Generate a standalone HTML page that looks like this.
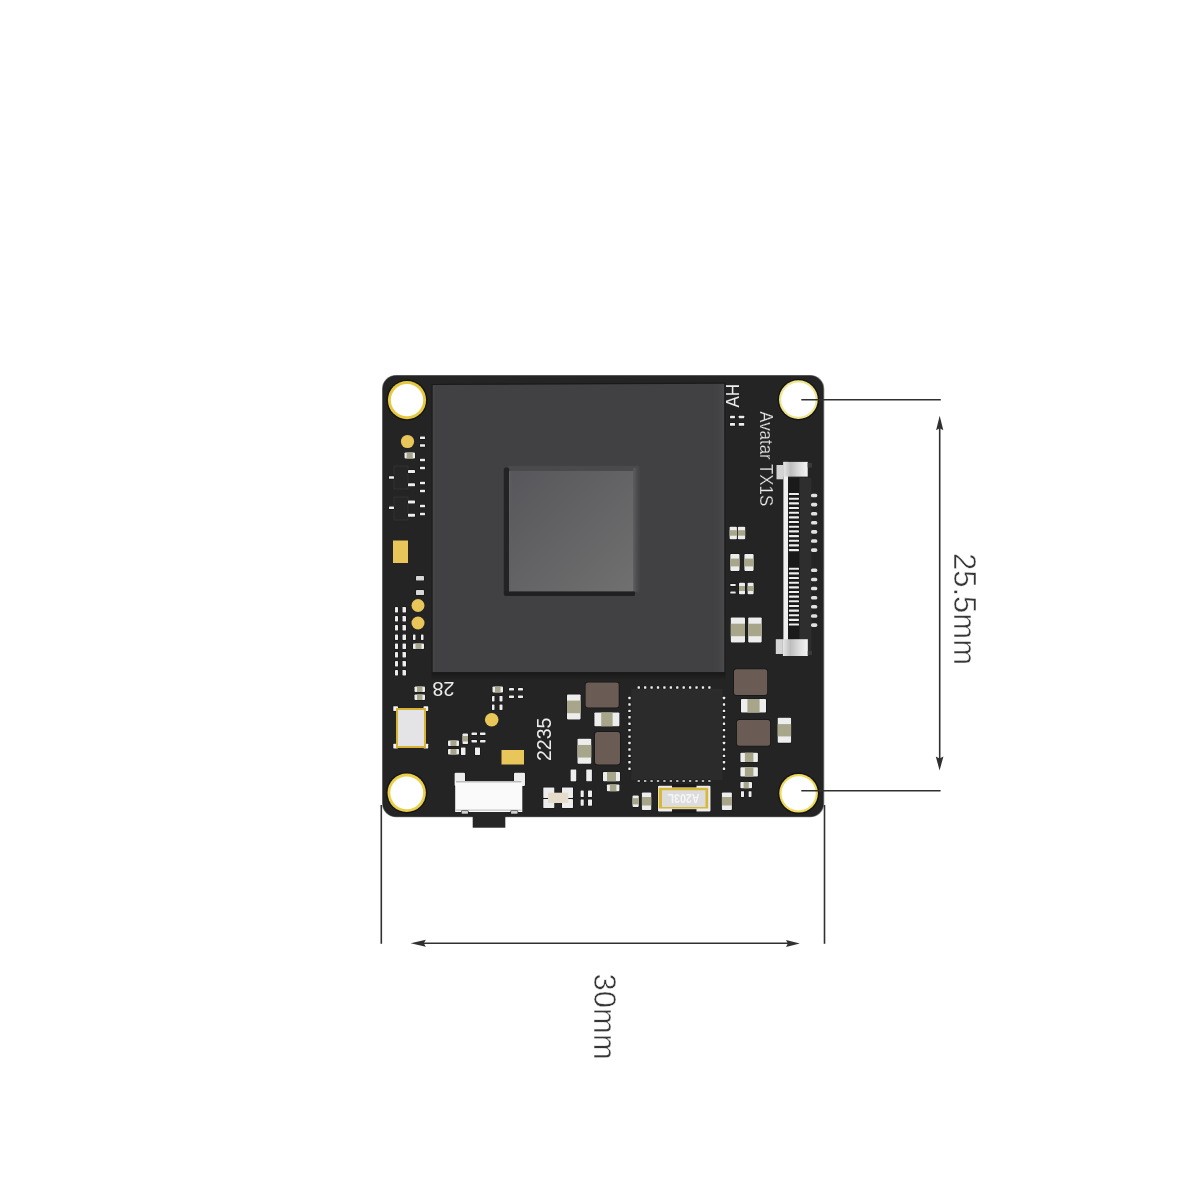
<!DOCTYPE html>
<html><head><meta charset="utf-8">
<style>
html,body{margin:0;padding:0;background:#fff;width:1200px;height:1200px;overflow:hidden}
svg{display:block;will-change:transform}
text{font-family:"Liberation Sans",sans-serif}
</style></head><body>
<svg width="1200" height="1200" viewBox="0 0 1200 1200">
<defs>
<linearGradient id="chipg" x1="0" y1="0" x2="1" y2="1">
<stop offset="0" stop-color="#57575b"/><stop offset="1" stop-color="#707070"/>
</linearGradient>
<linearGradient id="bevr" x1="0" y1="0" x2="1" y2="0">
<stop offset="0" stop-color="#5c5c5e"/><stop offset="1" stop-color="#444446"/>
</linearGradient>
<linearGradient id="shb" x1="0" y1="0" x2="0" y2="1">
<stop offset="0" stop-color="#1a1a1a"/><stop offset="1" stop-color="#242424"/>
</linearGradient>
<linearGradient id="sqr" x1="0" y1="0" x2="1" y2="0">
<stop offset="0" stop-color="#414143" stop-opacity="0"/><stop offset="1" stop-color="#4a4a4c"/>
</linearGradient>
<linearGradient id="sqg" x1="0" y1="0" x2="1" y2="0">
<stop offset="0" stop-color="#3f3f41"/><stop offset="0.9" stop-color="#424244"/><stop offset="1" stop-color="#48484a"/>
</linearGradient>
<linearGradient id="ringg" x1="0" y1="0" x2="1" y2="1">
<stop offset="0" stop-color="#dcc040"/><stop offset="0.6" stop-color="#efd657"/><stop offset="1" stop-color="#f5e68a"/>
</linearGradient>
<linearGradient id="capg" x1="0" y1="0" x2="1" y2="0">
<stop offset="0" stop-color="#e6e6e6"/><stop offset="0.3" stop-color="#bdbdbd"/><stop offset="0.6" stop-color="#d8d8d8"/><stop offset="1" stop-color="#f4f4f4"/>
</linearGradient>
</defs>
<rect width="1200" height="1200" fill="#fff"/>

<rect x="382" y="375" width="442.3" height="442.3" rx="14" fill="#8a8a8a"/>
<rect x="382.6" y="375.6" width="440.9" height="441.1" rx="13.5" fill="#242424"/>
<polygon points="431.5,384 725.5,382.5 725.5,674.5 431.5,674.5" fill="#1a1a1a"/>
<polygon points="432.8,385 724,383.7 724.2,672 432.8,672" fill="#414143"/>
<rect x="712" y="384" width="12.2" height="288" fill="url(#sqr)"/>
<rect x="432.80" y="385.00" width="2.00" height="287.00" fill="#464648"/>
<rect x="431.5" y="674" width="294" height="6" fill="url(#shb)"/>
<rect x="508" y="465.8" width="131.5" height="126" rx="2" fill="#4a4a4c"/>
<rect x="633.3" y="468" width="5.8" height="123.5" fill="url(#bevr)"/>
<rect x="503.8" y="467.5" width="5.5" height="128.5" rx="2" fill="#232325"/>
<rect x="504.5" y="591.3" width="130.5" height="4.8" rx="1.5" fill="#202022"/>
<rect x="509.00" y="471.00" width="124.30" height="120.30" fill="url(#chipg)"/>
<rect x="509.00" y="471.00" width="1.50" height="120.30" fill="#606062"/>
<circle cx="407.0" cy="400.1" r="20.50" fill="#141414"/><circle cx="407.0" cy="400.1" r="19.1" fill="#e6c840"/><circle cx="407.0" cy="400.1" r="16.2" fill="#fff"/>
<circle cx="798.4" cy="399.6" r="20.80" fill="#141414"/><circle cx="798.4" cy="399.6" r="19.4" fill="#efe58a"/><circle cx="798.4" cy="399.6" r="17.2" fill="#fff"/>
<circle cx="406.7" cy="792.8" r="20.60" fill="#141414"/><circle cx="406.7" cy="792.8" r="19.2" fill="#ead04a"/><circle cx="406.7" cy="792.8" r="16.4" fill="#fff"/>
<circle cx="798.6" cy="793.3" r="20.70" fill="#141414"/><circle cx="798.6" cy="793.3" r="19.3" fill="#efda5a"/><circle cx="798.6" cy="793.3" r="17.1" fill="#fff"/>
<circle cx="407.5" cy="441.5" r="6.6" fill="#e9c65a"/>
<rect x="420.00" y="436.50" width="5.00" height="2.60" rx="0.4" fill="#ededed" stroke="#141414" stroke-width="1.2" paint-order="stroke"/>
<rect x="420.00" y="444.20" width="5.00" height="2.60" rx="0.4" fill="#ededed" stroke="#141414" stroke-width="1.2" paint-order="stroke"/>
<rect x="420.00" y="458.70" width="5.00" height="2.60" rx="0.4" fill="#ededed" stroke="#141414" stroke-width="1.2" paint-order="stroke"/>
<rect x="420.00" y="466.70" width="5.00" height="2.60" rx="0.4" fill="#ededed" stroke="#141414" stroke-width="1.2" paint-order="stroke"/>
<rect x="420.00" y="481.70" width="5.00" height="2.60" rx="0.4" fill="#ededed" stroke="#141414" stroke-width="1.2" paint-order="stroke"/>
<rect x="420.00" y="489.70" width="5.00" height="2.60" rx="0.4" fill="#ededed" stroke="#141414" stroke-width="1.2" paint-order="stroke"/>
<rect x="420.00" y="504.70" width="5.00" height="2.60" rx="0.4" fill="#ededed" stroke="#141414" stroke-width="1.2" paint-order="stroke"/>
<rect x="420.00" y="512.70" width="5.00" height="2.60" rx="0.4" fill="#ededed" stroke="#141414" stroke-width="1.2" paint-order="stroke"/>
<rect x="404.50" y="452.50" width="10.50" height="6.00" rx="0.8" fill="#ededed" stroke="#141414" stroke-width="1.2" paint-order="stroke"/>
<rect x="406.70" y="452.50" width="6.10" height="6.00" fill="#a8a68a"/>
<rect x="394.00" y="466.00" width="14.00" height="23.00" fill="#262626" stroke="#383838" stroke-width="0.7"/>
<rect x="389.00" y="476.20" width="5.00" height="2.60" rx="0.4" fill="#ededed" stroke="#141414" stroke-width="1.2" paint-order="stroke"/>
<rect x="408.00" y="470.00" width="7.00" height="3.00" rx="0.4" fill="#ededed" stroke="#141414" stroke-width="1.2" paint-order="stroke"/>
<rect x="408.00" y="483.30" width="7.00" height="3.00" rx="0.4" fill="#ededed" stroke="#141414" stroke-width="1.2" paint-order="stroke"/>
<rect x="394.00" y="497.00" width="14.00" height="23.00" fill="#262626" stroke="#383838" stroke-width="0.7"/>
<rect x="389.00" y="506.50" width="5.00" height="2.60" rx="0.4" fill="#ededed" stroke="#141414" stroke-width="1.2" paint-order="stroke"/>
<rect x="408.00" y="500.50" width="7.00" height="3.00" rx="0.4" fill="#ededed" stroke="#141414" stroke-width="1.2" paint-order="stroke"/>
<rect x="408.00" y="513.70" width="7.00" height="3.00" rx="0.4" fill="#ededed" stroke="#141414" stroke-width="1.2" paint-order="stroke"/>
<rect x="393.00" y="540.50" width="15.00" height="22.50" fill="#e9c65a"/>
<rect x="416.00" y="576.00" width="8.00" height="4.50" rx="0.4" fill="#d8d8d8" stroke="#141414" stroke-width="1.2" paint-order="stroke"/>
<rect x="416.00" y="590.00" width="8.00" height="5.00" rx="0.4" fill="#d8d8d8" stroke="#141414" stroke-width="1.2" paint-order="stroke"/>
<circle cx="418" cy="605.5" r="6.5" fill="#e9c65a"/><circle cx="418" cy="623" r="6.5" fill="#e9c65a"/>
<rect x="395.00" y="607.00" width="3.00" height="5.50" rx="0.4" fill="#ededed" stroke="#141414" stroke-width="1.2" paint-order="stroke"/>
<rect x="402.50" y="607.00" width="3.50" height="5.50" rx="0.4" fill="#ededed" stroke="#141414" stroke-width="1.2" paint-order="stroke"/>
<rect x="395.00" y="616.00" width="3.00" height="5.50" rx="0.4" fill="#ededed" stroke="#141414" stroke-width="1.2" paint-order="stroke"/>
<rect x="402.50" y="616.00" width="3.50" height="5.50" rx="0.4" fill="#ededed" stroke="#141414" stroke-width="1.2" paint-order="stroke"/>
<rect x="395.00" y="625.00" width="3.00" height="5.50" rx="0.4" fill="#ededed" stroke="#141414" stroke-width="1.2" paint-order="stroke"/>
<rect x="402.50" y="625.00" width="3.50" height="5.50" rx="0.4" fill="#ededed" stroke="#141414" stroke-width="1.2" paint-order="stroke"/>
<rect x="395.00" y="634.50" width="3.00" height="5.50" rx="0.4" fill="#ededed" stroke="#141414" stroke-width="1.2" paint-order="stroke"/>
<rect x="402.50" y="634.50" width="3.50" height="5.50" rx="0.4" fill="#ededed" stroke="#141414" stroke-width="1.2" paint-order="stroke"/>
<rect x="395.00" y="643.50" width="3.00" height="5.50" rx="0.4" fill="#ededed" stroke="#141414" stroke-width="1.2" paint-order="stroke"/>
<rect x="402.50" y="643.50" width="3.50" height="5.50" rx="0.4" fill="#ededed" stroke="#141414" stroke-width="1.2" paint-order="stroke"/>
<rect x="395.00" y="652.00" width="3.00" height="5.50" rx="0.4" fill="#ededed" stroke="#141414" stroke-width="1.2" paint-order="stroke"/>
<rect x="402.50" y="652.00" width="3.50" height="5.50" rx="0.4" fill="#ededed" stroke="#141414" stroke-width="1.2" paint-order="stroke"/>
<rect x="395.00" y="661.00" width="3.00" height="5.50" rx="0.4" fill="#ededed" stroke="#141414" stroke-width="1.2" paint-order="stroke"/>
<rect x="402.50" y="661.00" width="3.50" height="5.50" rx="0.4" fill="#ededed" stroke="#141414" stroke-width="1.2" paint-order="stroke"/>
<rect x="395.00" y="670.00" width="3.00" height="5.50" rx="0.4" fill="#ededed" stroke="#141414" stroke-width="1.2" paint-order="stroke"/>
<rect x="402.50" y="670.00" width="3.50" height="5.50" rx="0.4" fill="#ededed" stroke="#141414" stroke-width="1.2" paint-order="stroke"/>
<rect x="413.00" y="634.50" width="2.50" height="5.50" rx="0.4" fill="#ededed" stroke="#141414" stroke-width="1.2" paint-order="stroke"/>
<rect x="421.00" y="634.50" width="2.50" height="5.50" rx="0.4" fill="#ededed" stroke="#141414" stroke-width="1.2" paint-order="stroke"/>
<rect x="413.00" y="643.50" width="11.00" height="5.50" rx="0.8" fill="#ededed" stroke="#141414" stroke-width="1.2" paint-order="stroke"/>
<rect x="415.50" y="643.50" width="6.00" height="5.50" fill="#a8a68a"/>
<text transform="translate(454.5,681.5) rotate(180)" font-size="20" fill="#ececec">28</text>
<rect x="414.50" y="686.50" width="10.50" height="5.50" rx="0.8" fill="#ededed" stroke="#141414" stroke-width="1.2" paint-order="stroke"/>
<rect x="417.00" y="686.50" width="5.50" height="5.50" fill="#a8a68a"/>
<rect x="414.50" y="694.50" width="10.50" height="5.50" rx="0.8" fill="#ededed" stroke="#141414" stroke-width="1.2" paint-order="stroke"/>
<rect x="417.00" y="694.50" width="5.50" height="5.50" fill="#a8a68a"/>
<rect x="393.30" y="706.30" width="4.70" height="4.70" rx="0.4" fill="#f4f4f4" stroke="#141414" stroke-width="1.2" paint-order="stroke"/>
<rect x="423.50" y="706.30" width="4.70" height="4.70" rx="0.4" fill="#f4f4f4" stroke="#141414" stroke-width="1.2" paint-order="stroke"/>
<rect x="393.30" y="743.80" width="4.70" height="4.70" rx="0.4" fill="#f4f4f4" stroke="#141414" stroke-width="1.2" paint-order="stroke"/>
<rect x="423.50" y="743.80" width="4.70" height="4.70" rx="0.4" fill="#f4f4f4" stroke="#141414" stroke-width="1.2" paint-order="stroke"/>
<rect x="396.00" y="708.00" width="30.00" height="40.00" fill="#d8b232"/>
<rect x="398.00" y="710.00" width="26.00" height="36.00" fill="#e4e4e6"/>
<rect x="448.00" y="740.50" width="11.00" height="5.50" rx="0.8" fill="#ededed" stroke="#141414" stroke-width="1.2" paint-order="stroke"/>
<rect x="450.50" y="740.50" width="6.00" height="5.50" fill="#a8a68a"/>
<rect x="448.00" y="749.00" width="11.00" height="5.50" rx="0.8" fill="#ededed" stroke="#141414" stroke-width="1.2" paint-order="stroke"/>
<rect x="450.50" y="749.00" width="6.00" height="5.50" fill="#a8a68a"/>
<rect x="492.50" y="686.50" width="10.50" height="6.00" rx="0.8" fill="#ededed" stroke="#141414" stroke-width="1.2" paint-order="stroke"/>
<rect x="495.00" y="686.50" width="5.50" height="6.00" fill="#a8a68a"/>
<rect x="509.00" y="688.00" width="5.00" height="2.50" rx="0.4" fill="#ededed" stroke="#141414" stroke-width="1.2" paint-order="stroke"/>
<rect x="509.00" y="695.50" width="5.00" height="2.50" rx="0.4" fill="#ededed" stroke="#141414" stroke-width="1.2" paint-order="stroke"/>
<rect x="518.00" y="688.00" width="5.00" height="2.50" rx="0.4" fill="#ededed" stroke="#141414" stroke-width="1.2" paint-order="stroke"/>
<rect x="518.00" y="695.50" width="5.00" height="2.50" rx="0.4" fill="#ededed" stroke="#141414" stroke-width="1.2" paint-order="stroke"/>
<rect x="492.00" y="696.00" width="2.50" height="5.50" rx="0.4" fill="#ededed" stroke="#141414" stroke-width="1.2" paint-order="stroke"/>
<rect x="499.50" y="696.00" width="3.00" height="5.50" rx="0.4" fill="#ededed" stroke="#141414" stroke-width="1.2" paint-order="stroke"/>
<rect x="492.00" y="704.50" width="2.50" height="5.50" rx="0.4" fill="#ededed" stroke="#141414" stroke-width="1.2" paint-order="stroke"/>
<rect x="499.50" y="704.50" width="3.00" height="5.50" rx="0.4" fill="#ededed" stroke="#141414" stroke-width="1.2" paint-order="stroke"/>
<circle cx="491.7" cy="719.7" r="6.8" fill="#e9c65a"/>
<rect x="462.50" y="733.50" width="5.50" height="10.50" rx="0.8" fill="#ededed" stroke="#141414" stroke-width="1.2" paint-order="stroke"/>
<rect x="462.50" y="736.00" width="5.50" height="5.50" fill="#a8a68a"/>
<rect x="471.50" y="732.50" width="5.50" height="2.50" rx="0.4" fill="#ededed" stroke="#141414" stroke-width="1.2" paint-order="stroke"/>
<rect x="471.50" y="740.00" width="5.50" height="2.50" rx="0.4" fill="#ededed" stroke="#141414" stroke-width="1.2" paint-order="stroke"/>
<rect x="480.00" y="732.50" width="5.50" height="2.50" rx="0.4" fill="#ededed" stroke="#141414" stroke-width="1.2" paint-order="stroke"/>
<rect x="480.00" y="740.00" width="5.50" height="2.50" rx="0.4" fill="#ededed" stroke="#141414" stroke-width="1.2" paint-order="stroke"/>
<rect x="461.00" y="747.50" width="4.50" height="7.50" rx="0.4" fill="#ededed" stroke="#141414" stroke-width="1.2" paint-order="stroke"/>
<rect x="475.00" y="747.50" width="5.00" height="7.50" rx="0.4" fill="#ededed" stroke="#141414" stroke-width="1.2" paint-order="stroke"/>
<rect x="501.50" y="750.00" width="22.50" height="14.50" fill="#e9c65a"/>
<text transform="translate(550.5,761) rotate(-90)" font-size="19.5" fill="#ececec">2235</text>
<rect x="472.70" y="810.00" width="32.60" height="17.70" fill="#262626"/>
<rect x="454.60" y="772.80" width="10.40" height="13.20" rx="1" fill="#ededed" stroke="#141414" stroke-width="1.2" paint-order="stroke"/>
<rect x="514.00" y="772.80" width="11.00" height="13.20" rx="1" fill="#ededed" stroke="#141414" stroke-width="1.2" paint-order="stroke"/>
<rect x="455.20" y="781.00" width="67.10" height="31.00" fill="#fafafa"/>
<rect x="456.00" y="781.00" width="65.50" height="1.50" fill="#bdbdbd"/>
<rect x="456.00" y="809.50" width="65.50" height="1.30" fill="#c8c8c8"/>
<rect x="461.60" y="811.00" width="6.40" height="2.70" rx="0.4" fill="#d0d0d0" stroke="#141414" stroke-width="1.2" paint-order="stroke"/>
<rect x="511.00" y="811.00" width="6.60" height="2.70" rx="0.4" fill="#d0d0d0" stroke="#141414" stroke-width="1.2" paint-order="stroke"/>
<rect x="543.30" y="787.40" width="11.00" height="10.60" rx="0.4" fill="#ededed" stroke="#141414" stroke-width="1.2" paint-order="stroke"/>
<rect x="543.30" y="799.00" width="11.00" height="9.00" rx="0.4" fill="#ededed" stroke="#141414" stroke-width="1.2" paint-order="stroke"/>
<rect x="562.00" y="787.40" width="11.00" height="10.60" rx="0.4" fill="#ededed" stroke="#141414" stroke-width="1.2" paint-order="stroke"/>
<rect x="562.00" y="799.00" width="11.00" height="9.00" rx="0.4" fill="#ededed" stroke="#141414" stroke-width="1.2" paint-order="stroke"/>
<rect x="548.00" y="792.70" width="20.30" height="10.30" fill="#e6dccb"/>
<rect x="571.30" y="770.00" width="4.70" height="11.60" rx="0.4" fill="#ededed" stroke="#141414" stroke-width="1.2" paint-order="stroke"/>
<rect x="585.6" y="682.5" width="33.1" height="25" rx="2.5" fill="#6b5b55" stroke="#161616" stroke-width="1.5" paint-order="stroke"/>
<rect x="567.00" y="694.40" width="13.60" height="25.00" rx="0.8" fill="#ededed" stroke="#141414" stroke-width="1.2" paint-order="stroke"/>
<rect x="567.00" y="700.60" width="13.60" height="12.60" fill="#a8a68a"/>
<rect x="594.40" y="712.50" width="25.00" height="13.75" rx="0.8" fill="#ededed" stroke="#141414" stroke-width="1.2" paint-order="stroke"/>
<rect x="601.20" y="712.50" width="11.40" height="13.75" fill="#a8a68a"/>
<rect x="595" y="731.9" width="25" height="32.5" rx="2.5" fill="#6b5b55" stroke="#161616" stroke-width="1.5" paint-order="stroke"/>
<rect x="577.50" y="738.75" width="13.75" height="25.00" rx="0.8" fill="#ededed" stroke="#141414" stroke-width="1.2" paint-order="stroke"/>
<rect x="577.50" y="744.95" width="13.75" height="12.60" fill="#a8a68a"/>
<rect x="570.60" y="769.40" width="5.65" height="11.85" rx="0.4" fill="#ededed" stroke="#141414" stroke-width="1.2" paint-order="stroke"/>
<rect x="586.25" y="769.40" width="5.65" height="11.85" rx="0.4" fill="#ededed" stroke="#141414" stroke-width="1.2" paint-order="stroke"/>
<rect x="603.00" y="771.90" width="17.00" height="9.35" rx="0.8" fill="#ededed" stroke="#141414" stroke-width="1.2" paint-order="stroke"/>
<rect x="607.00" y="771.90" width="9.00" height="9.35" fill="#a8a68a"/>
<rect x="606.90" y="784.40" width="12.50" height="6.85" rx="0.8" fill="#ededed" stroke="#141414" stroke-width="1.2" paint-order="stroke"/>
<rect x="609.90" y="784.40" width="6.50" height="6.85" fill="#a8a68a"/>
<rect x="580.60" y="790.60" width="3.15" height="6.30" rx="0.4" fill="#ededed" stroke="#141414" stroke-width="1.2" paint-order="stroke"/>
<rect x="588.00" y="790.60" width="4.00" height="6.30" rx="0.4" fill="#ededed" stroke="#141414" stroke-width="1.2" paint-order="stroke"/>
<rect x="580.60" y="799.40" width="3.15" height="6.30" rx="0.4" fill="#ededed" stroke="#141414" stroke-width="1.2" paint-order="stroke"/>
<rect x="588.00" y="799.40" width="4.00" height="6.30" rx="0.4" fill="#ededed" stroke="#141414" stroke-width="1.2" paint-order="stroke"/>
<rect x="631.25" y="688.75" width="91.25" height="91.25" fill="#2b2b2b"/>
<rect x="637.55" y="686.30" width="2.40" height="2.40" rx="0.4" fill="#ededed" stroke="#141414" stroke-width="1.2" paint-order="stroke"/>
<rect x="637.55" y="780.20" width="2.40" height="1.60" rx="0.4" fill="#ededed" stroke="#141414" stroke-width="1.2" paint-order="stroke"/>
<rect x="628.30" y="696.80" width="2.40" height="2.40" rx="0.4" fill="#ededed" stroke="#141414" stroke-width="1.2" paint-order="stroke"/>
<rect x="722.80" y="696.80" width="2.40" height="2.40" rx="0.4" fill="#ededed" stroke="#141414" stroke-width="1.2" paint-order="stroke"/>
<rect x="643.97" y="686.30" width="2.40" height="2.40" rx="0.4" fill="#ededed" stroke="#141414" stroke-width="1.2" paint-order="stroke"/>
<rect x="643.97" y="780.20" width="2.40" height="1.60" rx="0.4" fill="#ededed" stroke="#141414" stroke-width="1.2" paint-order="stroke"/>
<rect x="628.30" y="703.23" width="2.40" height="2.40" rx="0.4" fill="#ededed" stroke="#141414" stroke-width="1.2" paint-order="stroke"/>
<rect x="722.80" y="703.23" width="2.40" height="2.40" rx="0.4" fill="#ededed" stroke="#141414" stroke-width="1.2" paint-order="stroke"/>
<rect x="650.40" y="686.30" width="2.40" height="2.40" rx="0.4" fill="#ededed" stroke="#141414" stroke-width="1.2" paint-order="stroke"/>
<rect x="650.40" y="780.20" width="2.40" height="1.60" rx="0.4" fill="#ededed" stroke="#141414" stroke-width="1.2" paint-order="stroke"/>
<rect x="628.30" y="709.66" width="2.40" height="2.40" rx="0.4" fill="#ededed" stroke="#141414" stroke-width="1.2" paint-order="stroke"/>
<rect x="722.80" y="709.66" width="2.40" height="2.40" rx="0.4" fill="#ededed" stroke="#141414" stroke-width="1.2" paint-order="stroke"/>
<rect x="656.82" y="686.30" width="2.40" height="2.40" rx="0.4" fill="#ededed" stroke="#141414" stroke-width="1.2" paint-order="stroke"/>
<rect x="656.82" y="780.20" width="2.40" height="1.60" rx="0.4" fill="#ededed" stroke="#141414" stroke-width="1.2" paint-order="stroke"/>
<rect x="628.30" y="716.10" width="2.40" height="2.40" rx="0.4" fill="#ededed" stroke="#141414" stroke-width="1.2" paint-order="stroke"/>
<rect x="722.80" y="716.10" width="2.40" height="2.40" rx="0.4" fill="#ededed" stroke="#141414" stroke-width="1.2" paint-order="stroke"/>
<rect x="663.24" y="686.30" width="2.40" height="2.40" rx="0.4" fill="#ededed" stroke="#141414" stroke-width="1.2" paint-order="stroke"/>
<rect x="663.24" y="780.20" width="2.40" height="1.60" rx="0.4" fill="#ededed" stroke="#141414" stroke-width="1.2" paint-order="stroke"/>
<rect x="628.30" y="722.53" width="2.40" height="2.40" rx="0.4" fill="#ededed" stroke="#141414" stroke-width="1.2" paint-order="stroke"/>
<rect x="722.80" y="722.53" width="2.40" height="2.40" rx="0.4" fill="#ededed" stroke="#141414" stroke-width="1.2" paint-order="stroke"/>
<rect x="669.66" y="686.30" width="2.40" height="2.40" rx="0.4" fill="#ededed" stroke="#141414" stroke-width="1.2" paint-order="stroke"/>
<rect x="669.66" y="780.20" width="2.40" height="1.60" rx="0.4" fill="#ededed" stroke="#141414" stroke-width="1.2" paint-order="stroke"/>
<rect x="628.30" y="728.96" width="2.40" height="2.40" rx="0.4" fill="#ededed" stroke="#141414" stroke-width="1.2" paint-order="stroke"/>
<rect x="722.80" y="728.96" width="2.40" height="2.40" rx="0.4" fill="#ededed" stroke="#141414" stroke-width="1.2" paint-order="stroke"/>
<rect x="676.09" y="686.30" width="2.40" height="2.40" rx="0.4" fill="#ededed" stroke="#141414" stroke-width="1.2" paint-order="stroke"/>
<rect x="676.09" y="780.20" width="2.40" height="1.60" rx="0.4" fill="#ededed" stroke="#141414" stroke-width="1.2" paint-order="stroke"/>
<rect x="628.30" y="735.39" width="2.40" height="2.40" rx="0.4" fill="#ededed" stroke="#141414" stroke-width="1.2" paint-order="stroke"/>
<rect x="722.80" y="735.39" width="2.40" height="2.40" rx="0.4" fill="#ededed" stroke="#141414" stroke-width="1.2" paint-order="stroke"/>
<rect x="682.51" y="686.30" width="2.40" height="2.40" rx="0.4" fill="#ededed" stroke="#141414" stroke-width="1.2" paint-order="stroke"/>
<rect x="682.51" y="780.20" width="2.40" height="1.60" rx="0.4" fill="#ededed" stroke="#141414" stroke-width="1.2" paint-order="stroke"/>
<rect x="628.30" y="741.82" width="2.40" height="2.40" rx="0.4" fill="#ededed" stroke="#141414" stroke-width="1.2" paint-order="stroke"/>
<rect x="722.80" y="741.82" width="2.40" height="2.40" rx="0.4" fill="#ededed" stroke="#141414" stroke-width="1.2" paint-order="stroke"/>
<rect x="688.93" y="686.30" width="2.40" height="2.40" rx="0.4" fill="#ededed" stroke="#141414" stroke-width="1.2" paint-order="stroke"/>
<rect x="688.93" y="780.20" width="2.40" height="1.60" rx="0.4" fill="#ededed" stroke="#141414" stroke-width="1.2" paint-order="stroke"/>
<rect x="628.30" y="748.25" width="2.40" height="2.40" rx="0.4" fill="#ededed" stroke="#141414" stroke-width="1.2" paint-order="stroke"/>
<rect x="722.80" y="748.25" width="2.40" height="2.40" rx="0.4" fill="#ededed" stroke="#141414" stroke-width="1.2" paint-order="stroke"/>
<rect x="695.35" y="686.30" width="2.40" height="2.40" rx="0.4" fill="#ededed" stroke="#141414" stroke-width="1.2" paint-order="stroke"/>
<rect x="695.35" y="780.20" width="2.40" height="1.60" rx="0.4" fill="#ededed" stroke="#141414" stroke-width="1.2" paint-order="stroke"/>
<rect x="628.30" y="754.69" width="2.40" height="2.40" rx="0.4" fill="#ededed" stroke="#141414" stroke-width="1.2" paint-order="stroke"/>
<rect x="722.80" y="754.69" width="2.40" height="2.40" rx="0.4" fill="#ededed" stroke="#141414" stroke-width="1.2" paint-order="stroke"/>
<rect x="701.78" y="686.30" width="2.40" height="2.40" rx="0.4" fill="#ededed" stroke="#141414" stroke-width="1.2" paint-order="stroke"/>
<rect x="701.78" y="780.20" width="2.40" height="1.60" rx="0.4" fill="#ededed" stroke="#141414" stroke-width="1.2" paint-order="stroke"/>
<rect x="628.30" y="761.12" width="2.40" height="2.40" rx="0.4" fill="#ededed" stroke="#141414" stroke-width="1.2" paint-order="stroke"/>
<rect x="722.80" y="761.12" width="2.40" height="2.40" rx="0.4" fill="#ededed" stroke="#141414" stroke-width="1.2" paint-order="stroke"/>
<rect x="708.20" y="686.30" width="2.40" height="2.40" rx="0.4" fill="#ededed" stroke="#141414" stroke-width="1.2" paint-order="stroke"/>
<rect x="708.20" y="780.20" width="2.40" height="1.60" rx="0.4" fill="#ededed" stroke="#141414" stroke-width="1.2" paint-order="stroke"/>
<rect x="628.30" y="767.55" width="2.40" height="2.40" rx="0.4" fill="#ededed" stroke="#141414" stroke-width="1.2" paint-order="stroke"/>
<rect x="722.80" y="767.55" width="2.40" height="2.40" rx="0.4" fill="#ededed" stroke="#141414" stroke-width="1.2" paint-order="stroke"/>
<rect x="658.00" y="785.80" width="52.50" height="25.70" rx="1" fill="#ededed" stroke="#141414" stroke-width="1.2" paint-order="stroke"/>
<rect x="672" y="784" width="24.5" height="3.5" fill="#1a1a1a"/><rect x="672" y="809.2" width="24.5" height="3.5" fill="#1a1a1a"/>
<rect x="658.75" y="787.75" width="49.45" height="20.75" fill="#d8b838"/>
<rect x="662.00" y="790.25" width="43.50" height="16.75" fill="#dcdcdc"/>
<text transform="translate(699.5,794.3) rotate(180)" font-size="13" font-weight="bold" fill="#f6f6f6" textLength="32" lengthAdjust="spacingAndGlyphs">A203L</text>
<rect x="632.50" y="795.60" width="6.25" height="11.30" rx="0.8" fill="#ededed" stroke="#141414" stroke-width="1.2" paint-order="stroke"/>
<rect x="632.50" y="798.10" width="6.25" height="6.30" fill="#a8a68a"/>
<rect x="641.90" y="792.50" width="9.35" height="17.50" rx="0.8" fill="#ededed" stroke="#141414" stroke-width="1.2" paint-order="stroke"/>
<rect x="641.90" y="797.00" width="9.35" height="8.50" fill="#a8a68a"/>
<rect x="721.90" y="792.50" width="10.00" height="17.50" rx="0.8" fill="#ededed" stroke="#141414" stroke-width="1.2" paint-order="stroke"/>
<rect x="721.90" y="797.00" width="10.00" height="8.50" fill="#a8a68a"/>
<rect x="734" y="669.3" width="33.2" height="25.7" rx="2.5" fill="#6b5b55" stroke="#161616" stroke-width="1.5" paint-order="stroke"/>
<rect x="741.00" y="699.00" width="25.00" height="13.50" rx="0.8" fill="#ededed" stroke="#141414" stroke-width="1.2" paint-order="stroke"/>
<rect x="747.40" y="699.00" width="12.20" height="13.50" fill="#a8a68a"/>
<rect x="736.9" y="720" width="33.2" height="25.7" rx="2.5" fill="#6b5b55" stroke="#161616" stroke-width="1.5" paint-order="stroke"/>
<rect x="777.70" y="717.70" width="13.40" height="25.10" rx="0.8" fill="#ededed" stroke="#141414" stroke-width="1.2" paint-order="stroke"/>
<rect x="777.70" y="724.10" width="13.40" height="12.30" fill="#a8a68a"/>
<rect x="740.40" y="752.70" width="17.50" height="9.30" rx="0.8" fill="#ededed" stroke="#141414" stroke-width="1.2" paint-order="stroke"/>
<rect x="744.90" y="752.70" width="8.50" height="9.30" fill="#a8a68a"/>
<rect x="740.40" y="767.30" width="17.50" height="9.30" rx="0.8" fill="#ededed" stroke="#141414" stroke-width="1.2" paint-order="stroke"/>
<rect x="744.90" y="767.30" width="8.50" height="9.30" fill="#a8a68a"/>
<rect x="740.40" y="781.90" width="11.60" height="6.40" rx="0.8" fill="#ededed" stroke="#141414" stroke-width="1.2" paint-order="stroke"/>
<rect x="743.60" y="781.90" width="5.20" height="6.40" fill="#a8a68a"/>
<rect x="741.00" y="791.20" width="3.00" height="5.80" rx="0.4" fill="#ededed" stroke="#141414" stroke-width="1.2" paint-order="stroke"/>
<rect x="748.60" y="791.20" width="2.90" height="5.80" rx="0.4" fill="#ededed" stroke="#141414" stroke-width="1.2" paint-order="stroke"/>
<text transform="translate(739.4,407.5) rotate(-90)" font-size="19" textLength="23.7" lengthAdjust="spacingAndGlyphs" fill="#ececec">AH</text>
<rect x="730.00" y="415.80" width="5.00" height="2.40" rx="0.4" fill="#ededed" stroke="#141414" stroke-width="1.2" paint-order="stroke"/>
<rect x="730.00" y="422.90" width="5.00" height="2.90" rx="0.4" fill="#ededed" stroke="#141414" stroke-width="1.2" paint-order="stroke"/>
<rect x="738.75" y="415.80" width="5.45" height="2.40" rx="0.4" fill="#ededed" stroke="#141414" stroke-width="1.2" paint-order="stroke"/>
<rect x="738.75" y="422.90" width="5.45" height="2.90" rx="0.4" fill="#ededed" stroke="#141414" stroke-width="1.2" paint-order="stroke"/>
<text transform="translate(760,411.25) rotate(90)" font-size="18.6" stroke="#242424" stroke-width="0.25" textLength="95" lengthAdjust="spacingAndGlyphs" fill="#ececec">Avatar TX1S</text>
<rect x="729.60" y="526.70" width="7.30" height="12.50" rx="0.8" fill="#ededed" stroke="#141414" stroke-width="1.2" paint-order="stroke"/>
<rect x="729.60" y="530.20" width="7.30" height="5.50" fill="#a8a68a"/>
<rect x="737.90" y="526.70" width="7.30" height="12.50" rx="0.8" fill="#ededed" stroke="#141414" stroke-width="1.2" paint-order="stroke"/>
<rect x="737.90" y="530.20" width="7.30" height="5.50" fill="#a8a68a"/>
<rect x="730.30" y="554.10" width="9.20" height="16.80" rx="0.8" fill="#ededed" stroke="#141414" stroke-width="1.2" paint-order="stroke"/>
<rect x="730.30" y="558.60" width="9.20" height="7.80" fill="#a8a68a"/>
<rect x="744.40" y="554.10" width="9.20" height="16.80" rx="0.8" fill="#ededed" stroke="#141414" stroke-width="1.2" paint-order="stroke"/>
<rect x="744.40" y="558.60" width="9.20" height="7.80" fill="#a8a68a"/>
<rect x="730.30" y="583.90" width="5.40" height="2.10" rx="0.4" fill="#ededed" stroke="#141414" stroke-width="1.2" paint-order="stroke"/>
<rect x="730.30" y="591.50" width="5.40" height="2.10" rx="0.4" fill="#ededed" stroke="#141414" stroke-width="1.2" paint-order="stroke"/>
<rect x="739.00" y="582.80" width="6.00" height="11.40" rx="0.8" fill="#ededed" stroke="#141414" stroke-width="1.2" paint-order="stroke"/>
<rect x="739.00" y="586.00" width="6.00" height="5.00" fill="#a8a68a"/>
<rect x="747.60" y="582.80" width="6.00" height="11.40" rx="0.8" fill="#ededed" stroke="#141414" stroke-width="1.2" paint-order="stroke"/>
<rect x="747.60" y="586.00" width="6.00" height="5.00" fill="#a8a68a"/>
<rect x="730.80" y="617.50" width="14.20" height="24.90" rx="0.8" fill="#ededed" stroke="#141414" stroke-width="1.2" paint-order="stroke"/>
<rect x="730.80" y="623.70" width="14.20" height="12.50" fill="#a8a68a"/>
<rect x="748.20" y="617.50" width="13.50" height="24.90" rx="0.8" fill="#ededed" stroke="#141414" stroke-width="1.2" paint-order="stroke"/>
<rect x="748.20" y="623.70" width="13.50" height="12.50" fill="#a8a68a"/>
<rect x="788.00" y="478.00" width="23.30" height="174.00" fill="#2e2e2e"/>
<rect x="788.00" y="478.00" width="11.40" height="174.00" fill="#1a1a1a"/>
<rect x="788.90" y="493.00" width="10.10" height="2.10" rx="0.4" fill="#ededed" stroke="#141414" stroke-width="1.2" paint-order="stroke"/>
<rect x="788.90" y="497.67" width="10.10" height="2.10" rx="0.4" fill="#ededed" stroke="#141414" stroke-width="1.2" paint-order="stroke"/>
<rect x="788.90" y="502.34" width="10.10" height="2.10" rx="0.4" fill="#ededed" stroke="#141414" stroke-width="1.2" paint-order="stroke"/>
<rect x="788.90" y="507.01" width="10.10" height="2.10" rx="0.4" fill="#ededed" stroke="#141414" stroke-width="1.2" paint-order="stroke"/>
<rect x="788.90" y="511.68" width="10.10" height="2.10" rx="0.4" fill="#ededed" stroke="#141414" stroke-width="1.2" paint-order="stroke"/>
<rect x="788.90" y="516.35" width="10.10" height="2.10" rx="0.4" fill="#ededed" stroke="#141414" stroke-width="1.2" paint-order="stroke"/>
<rect x="788.90" y="521.02" width="10.10" height="2.10" rx="0.4" fill="#ededed" stroke="#141414" stroke-width="1.2" paint-order="stroke"/>
<rect x="788.90" y="525.69" width="10.10" height="2.10" rx="0.4" fill="#ededed" stroke="#141414" stroke-width="1.2" paint-order="stroke"/>
<rect x="788.90" y="530.36" width="10.10" height="2.10" rx="0.4" fill="#ededed" stroke="#141414" stroke-width="1.2" paint-order="stroke"/>
<rect x="788.90" y="535.03" width="10.10" height="2.10" rx="0.4" fill="#ededed" stroke="#141414" stroke-width="1.2" paint-order="stroke"/>
<rect x="788.90" y="539.70" width="10.10" height="2.10" rx="0.4" fill="#ededed" stroke="#141414" stroke-width="1.2" paint-order="stroke"/>
<rect x="788.90" y="544.37" width="10.10" height="2.10" rx="0.4" fill="#ededed" stroke="#141414" stroke-width="1.2" paint-order="stroke"/>
<rect x="788.90" y="549.04" width="10.10" height="2.10" rx="0.4" fill="#ededed" stroke="#141414" stroke-width="1.2" paint-order="stroke"/>
<rect x="788.90" y="567.70" width="10.10" height="2.10" rx="0.4" fill="#ededed" stroke="#141414" stroke-width="1.2" paint-order="stroke"/>
<rect x="788.90" y="572.35" width="10.10" height="2.10" rx="0.4" fill="#ededed" stroke="#141414" stroke-width="1.2" paint-order="stroke"/>
<rect x="788.90" y="577.00" width="10.10" height="2.10" rx="0.4" fill="#ededed" stroke="#141414" stroke-width="1.2" paint-order="stroke"/>
<rect x="788.90" y="581.65" width="10.10" height="2.10" rx="0.4" fill="#ededed" stroke="#141414" stroke-width="1.2" paint-order="stroke"/>
<rect x="788.90" y="586.30" width="10.10" height="2.10" rx="0.4" fill="#ededed" stroke="#141414" stroke-width="1.2" paint-order="stroke"/>
<rect x="788.90" y="590.95" width="10.10" height="2.10" rx="0.4" fill="#ededed" stroke="#141414" stroke-width="1.2" paint-order="stroke"/>
<rect x="788.90" y="595.60" width="10.10" height="2.10" rx="0.4" fill="#ededed" stroke="#141414" stroke-width="1.2" paint-order="stroke"/>
<rect x="788.90" y="600.25" width="10.10" height="2.10" rx="0.4" fill="#ededed" stroke="#141414" stroke-width="1.2" paint-order="stroke"/>
<rect x="788.90" y="604.90" width="10.10" height="2.10" rx="0.4" fill="#ededed" stroke="#141414" stroke-width="1.2" paint-order="stroke"/>
<rect x="788.90" y="609.55" width="10.10" height="2.10" rx="0.4" fill="#ededed" stroke="#141414" stroke-width="1.2" paint-order="stroke"/>
<rect x="788.90" y="614.20" width="10.10" height="2.10" rx="0.4" fill="#ededed" stroke="#141414" stroke-width="1.2" paint-order="stroke"/>
<rect x="788.90" y="618.85" width="10.10" height="2.10" rx="0.4" fill="#ededed" stroke="#141414" stroke-width="1.2" paint-order="stroke"/>
<rect x="788.90" y="623.50" width="10.10" height="2.10" rx="0.4" fill="#ededed" stroke="#141414" stroke-width="1.2" paint-order="stroke"/>
<rect x="811" y="493.70" width="6.3" height="3.6" rx="1.6" fill="#e0e0e0"/>
<rect x="811" y="502.80" width="6.3" height="3.6" rx="1.6" fill="#e0e0e0"/>
<rect x="811" y="511.90" width="6.3" height="3.6" rx="1.6" fill="#e0e0e0"/>
<rect x="811" y="521.00" width="6.3" height="3.6" rx="1.6" fill="#e0e0e0"/>
<rect x="811" y="530.10" width="6.3" height="3.6" rx="1.6" fill="#e0e0e0"/>
<rect x="811" y="539.20" width="6.3" height="3.6" rx="1.6" fill="#e0e0e0"/>
<rect x="811" y="548.30" width="6.3" height="3.6" rx="1.6" fill="#e0e0e0"/>
<rect x="811" y="568.50" width="6.3" height="3.6" rx="1.6" fill="#e0e0e0"/>
<rect x="811" y="577.63" width="6.3" height="3.6" rx="1.6" fill="#e0e0e0"/>
<rect x="811" y="586.76" width="6.3" height="3.6" rx="1.6" fill="#e0e0e0"/>
<rect x="811" y="595.89" width="6.3" height="3.6" rx="1.6" fill="#e0e0e0"/>
<rect x="811" y="605.02" width="6.3" height="3.6" rx="1.6" fill="#e0e0e0"/>
<rect x="811" y="614.15" width="6.3" height="3.6" rx="1.6" fill="#e0e0e0"/>
<rect x="811" y="623.28" width="6.3" height="3.6" rx="1.6" fill="#e0e0e0"/>
<rect x="783.40" y="461.90" width="4.60" height="194.10" fill="#f0f0f0"/>
<rect x="776.50" y="465.00" width="6.90" height="14.30" fill="#d4d4d4"/>
<rect x="783.40" y="461.90" width="24.30" height="14.70" fill="url(#capg)"/>
<rect x="807.70" y="463.00" width="4.30" height="4.50" fill="#3a3a3a"/>
<rect x="775.80" y="639.20" width="7.10" height="14.80" fill="#d4d4d4"/>
<rect x="782.90" y="639.20" width="24.90" height="16.80" fill="url(#capg)"/>
<rect x="807.80" y="651.00" width="4.20" height="4.00" fill="#3a3a3a"/>
<g stroke="#303030" stroke-width="1.6" fill="none">
<line x1="801.3" y1="399.7" x2="940.8" y2="399.7"/>
<line x1="801.3" y1="790.8" x2="940.6" y2="790.8"/>
<line x1="939.7" y1="427" x2="939.7" y2="759"/>
<line x1="381.3" y1="805" x2="381.3" y2="943.8"/>
<line x1="824.5" y1="805" x2="824.5" y2="943.8"/>
<line x1="423" y1="943.3" x2="788" y2="943.3"/>
</g>
<g fill="#303030">
<path d="M939.7 415.8 L943.3 430.3 L939.7 428.3 L936.1 430.3 Z"/>
<path d="M939.6 770.6 L943.4 756.5 L939.6 758.5 L935.8 756.5 Z"/>
<path d="M410.7 943.3 L425.8 939.8 L423.8 943.3 L425.8 946.8 Z"/>
<path d="M799.8 943.4 L786 939.9 L787.8 943.4 L786 946.9 Z"/>
</g>
<text transform="translate(953.5,553) rotate(90)" font-size="31" fill="#363636" stroke="#fff" stroke-width="0.5">25.5mm</text>
<text transform="translate(593.5,973.6) rotate(90)" font-size="31" fill="#363636" stroke="#fff" stroke-width="0.5">30mm</text>
</svg>
</body></html>
